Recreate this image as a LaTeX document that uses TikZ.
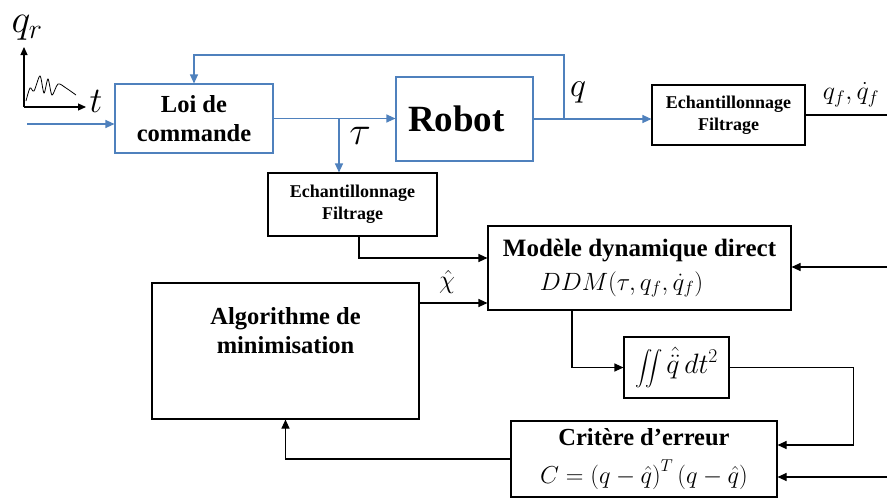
\RequirePackage{fix-cm}
\documentclass[tikz,border=0pt]{standalone}
\usepackage{amsmath}
\usepackage{fontspec}
\setmainfont{Liberation Serif}
\usetikzlibrary{arrows.meta,positioning,calc}
\definecolor{ctrlblue}{RGB}{79,129,189}

\begin{document}
\begin{tikzpicture}[x=1pt,y=-1pt,
    blk/.style={draw=black, line width=1.1pt, align=center, inner sep=2pt},
    blu/.style={draw=ctrlblue, line width=1.1pt, align=center, inner sep=2pt},
    wire/.style={line width=1.1pt},
    sig/.style={wire, -{Triangle[length=9pt,width=8pt]}},
    bsig/.style={sig, ctrlblue},
    big/.style={font=\fontsize{24.5}{29}\selectfont\bfseries},
    small/.style={font=\fontsize{18}{22}\selectfont\bfseries}]
  \useasboundingbox (0,0) rectangle (887,498);
  % --- blocks
  \node[blu, big, minimum width=158pt, minimum height=69pt] (loi) at (194,118.5) {Loi de\\commande};
  \node[blu, minimum width=137pt, minimum height=84pt, font=\fontsize{37}{40}\selectfont\bfseries] (robot) at (464.5,119) {Robot\hspace*{16pt}};
  \node[blk, small, minimum width=153pt, minimum height=60pt] (ech1) at (728.5,115) {Echantillonnage\\Filtrage};
  \node[blk, small, minimum width=169pt, minimum height=63pt] (ech2) at (352.5,204.5) {Echantillonnage\\Filtrage};
  \node[blk, minimum width=303pt, minimum height=84pt, font=\fontsize{25}{34}\selectfont] (ddm) at (639.5,268)
    {\textbf{Modèle dynamique direct}\\$DDM(\tau,q_f,\dot{q}_f)$\hspace*{36pt}};
  \node[blk, minimum width=105pt, minimum height=61pt, font=\fontsize{19}{28}\selectfont] (integ) at (676.5,367.5)
    {$\displaystyle\iint$\,{\fontsize{28}{28}\selectfont$\hat{\ddot{q}}\,dt^2$}};
  \node[blk, minimum width=266pt, minimum height=76pt, font=\fontsize{24.5}{38}\selectfont] (crit) at (644,459)
    {\textbf{Critère d’erreur}\\$C=\left(q-\hat{q}\right)^T\left(q-\hat{q}\right)$};
  \node[blk, minimum width=267pt, minimum height=136pt] (algo) at (285.5,351) {};
  \node[big, align=center] (algotxt) at (285.5,331) {Algorithme de\\minimisation};
  % --- reference signal sketch
  \coordinate (orig) at (24,107);
  \draw[wire, -{Triangle[length=8pt,width=7pt]}] (orig) -- (24,47);
  \draw[wire, -{Triangle[length=8pt,width=7pt]}] (orig) -- (86,107);
  \draw[line width=0.8pt] plot[smooth] coordinates {(26,101) (30,88) (34,91) (40,76) (44,93) (48,79) (52,95) (58,84) (66,88) (76,95)};
  \node[font=\fontsize{40}{40}\selectfont] (qr) at (27,28) {$q_r$};
  \node[font=\fontsize{36}{36}\selectfont] (tlab) at (96,101) {$t$};
  % --- blue loop
  \coordinate (in) at (27,124);
  \draw[bsig] (in) -- (in -| loi.west);
  \draw[bsig] (loi.east) -- (loi.east -| robot.west);
  \coordinate (tb) at (339,118.5);
  \draw[bsig] (tb) -- (tb |- ech2.north);
  \draw[bsig] (robot.east) -- (robot.east -| ech1.west);
  \coordinate (qb) at (564,119);
  \draw[bsig] (qb) -- ++(0,-64) -| (loi.north);
  \node[font=\fontsize{40}{40}\selectfont] (taulab) at (360,136) {$\tau$};
  \node[font=\fontsize{34}{34}\selectfont] (qlab) at (578,92) {$q$};
  % --- black signals
  \coordinate (qfout) at (887,115);
  \draw[wire] (ech1.east) -- (qfout);
  \node[font=\fontsize{26}{26}\selectfont] (qflab) at (851,95) {$q_f,\dot{q}_f$};
  \draw[sig] ([xshift=6.5pt]ech2.south) |- ([yshift=10pt]ddm.west);
  \draw[sig] ([yshift=-35pt]ddm.west -| algo.east) -- ([yshift=-35pt]ddm.west);
  \node[font=\fontsize{26}{26}\selectfont] (chilab) at (447,282) {$\hat{\chi}$};
  \draw[sig] ([xshift=-67.5pt]ddm.south) |- (integ.west);
  \draw[sig] (integ.east) -- ++(124,0) |- ([yshift=14pt]crit.east);
  \coordinate (qfin) at (887,267);
  \draw[sig] (qfin) -- (qfin -| ddm.east);
  \coordinate (qin) at (887,477);
  \draw[sig] (qin) -- (qin -| crit.east);
  \draw[sig] (crit.west) -| (algo.south);
\end{tikzpicture}
\end{document}
